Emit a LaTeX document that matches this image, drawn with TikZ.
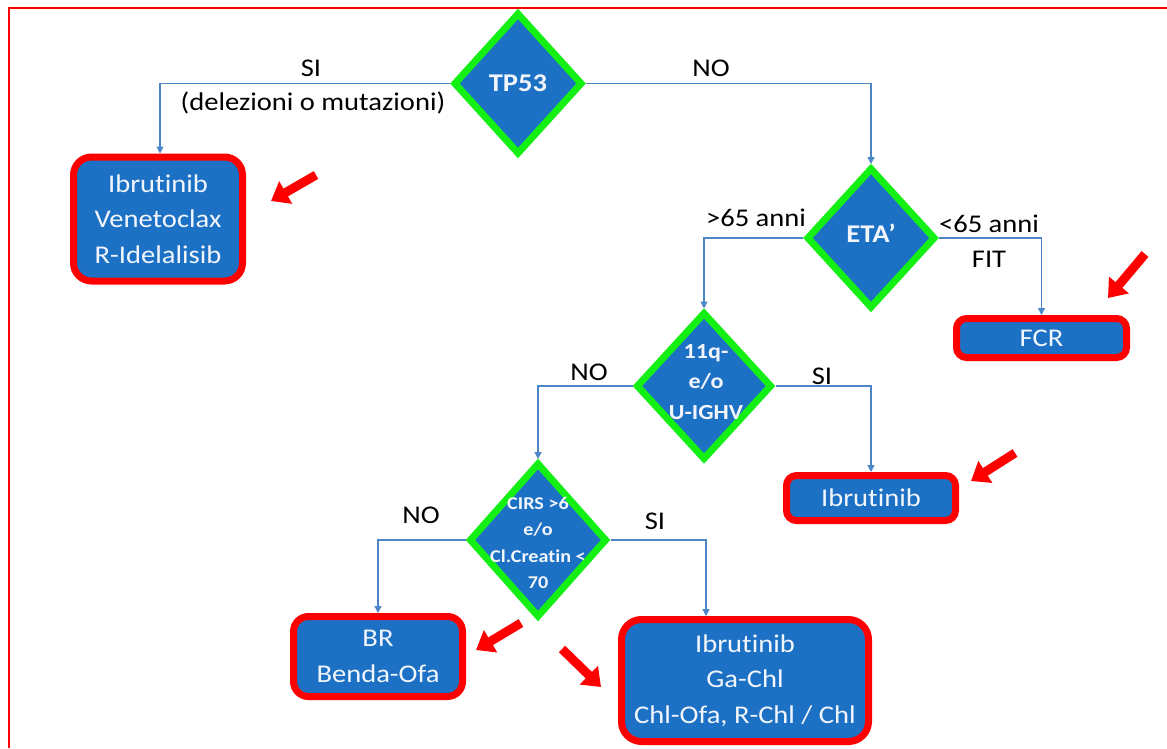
\documentclass[tikz,border=0pt]{standalone}
\usepackage{fontspec}
\setmainfont{Carlito}[FakeStretch=1.12, Ligatures={NoCommon}]
\usetikzlibrary{shapes.geometric,arrows.meta}
\definecolor{boxblue}{RGB}{28,113,196}
\definecolor{dgreen}{RGB}{20,240,20}
\definecolor{bred}{RGB}{255,0,0}
\definecolor{lineblue}{RGB}{74,134,200}
\definecolor{txt}{RGB}{242,246,252}
\tikzset{
  dia/.style={diamond, draw=dgreen, line width=7pt, fill=boxblue, inner sep=0pt, line join=miter},
  res/.style={rectangle, rounded corners=#1, draw=bred, line width=7pt, fill=boxblue, text=txt,
              align=center, inner sep=0pt, font=\fontsize{25.5}{35.5}\selectfont},
  res/.default=12pt,
  link/.style={draw=lineblue, line width=1.2pt, -{Triangle[length=7pt,width=7pt]}},
  lbl/.style={font=\fontsize{25.5}{29}\selectfont, text=black, inner sep=0pt, align=center},
  pointer/.style={draw=bred, line width=9pt, -{Triangle[length=17pt,width=25pt]}}
}
\begin{document}
\begin{tikzpicture}[x=1pt,y=-1pt]
\useasboundingbox (0,0) rectangle (1167,748);
\fill[white] (0,0) rectangle (1167,748);
\draw[bred, line width=1.5pt] (9,748) -- (9,8) -- (1167,8);

% decision diamonds
\node[dia, minimum width=129pt, minimum height=142pt,
  label={[text=txt, font=\bfseries\fontsize{25.5}{30}\selectfont]center:TP53}] (tp) at (518,83.5) {};
\node[dia, minimum width=129pt, minimum height=141pt,
  label={[text=txt, font=\bfseries\fontsize{25.5}{30}\selectfont, yshift=5pt]center:ETA’}] (eta) at (871,238) {};
\node[dia, minimum width=136pt, minimum height=148pt,
  label={[text=txt, align=center, font=\bfseries\fontsize{21.5}{30.5}\selectfont, xshift=2pt, yshift=4pt]center:11q-\\e/o\\U-IGHV}] (q11) at (704,386) {};
\node[dia, minimum width=138pt, minimum height=155pt,
  label={[text=txt, align=center, font=\bfseries\fontsize{18}{26.3}\selectfont, yshift=-3pt]center:CIRS >6\\e/o\\Cl.Creatin <\\70}] (cirs) at (538,540) {};

% result boxes
\node[res=18pt, minimum width=169pt, minimum height=124pt] (lb) at (158,219) {Ibrutinib\\Venetoclax\\R-Idelalisib};
\node[res=10pt, minimum width=170pt, minimum height=39pt] (fcr) at (1041.5,338) {FCR};
\node[res=10pt, minimum width=169pt, minimum height=45pt] (ib) at (871,498) {Ibrutinib};
\node[res=15pt, minimum width=169pt, minimum height=80pt] (br) at (378,656.5) {BR\\Benda-Ofa};
\node[res=20pt, minimum width=247pt, minimum height=122pt] (big) at (745,680.5) {Ibrutinib\\Ga-Chl\\Chl-Ofa, R-Chl / Chl};

% connectors
\draw[link] (tp.west) -| ([xshift=2pt]lb.north);
\draw[link] (tp.east) -| (eta.north);
\draw[link] (eta.west) -| (q11.north);
\draw[link] (eta.east) -| (fcr.north);
\draw[link] (q11.west) -| (cirs.north);
\draw[link] (q11.east) -| (ib.north);
\draw[link] (cirs.west) -| (br.north);
\draw[link] (cirs.east) -| ([xshift=-39pt]big.north);

% labels
\node[lbl] (l1) at (311,68) {SI};
\node[lbl] (l2) at (313,103) {(delezioni o mutazioni)};
\node[lbl] (l3) at (711,68) {NO};
\node[lbl] (l4) at (756,218) {>65 anni};
\node[lbl] (l5) at (989,224) {<65 anni};
\node[lbl] (l6) at (989,259) {FIT};
\node[lbl] (l7) at (589,372) {NO};
\node[lbl] (l8) at (822,376) {SI};
\node[lbl] (l9) at (421,515) {NO};
\node[lbl] (l10) at (655,521) {SI};

% red pointers
\coordinate (p1a) at (316,175); \coordinate (p1b) at (271,201);
\coordinate (p2a) at (1145,254); \coordinate (p2b) at (1108,298);
\coordinate (p3a) at (1015,453); \coordinate (p3b) at (971,481);
\coordinate (p4a) at (521,623); \coordinate (p4b) at (476,650);
\coordinate (p5a) at (562,649); \coordinate (p5b) at (601,687);
\draw[pointer] (p1a) -- (p1b);
\draw[pointer] (p2a) -- (p2b);
\draw[pointer] (p3a) -- (p3b);
\draw[pointer] (p4a) -- (p4b);
\draw[pointer] (p5a) -- (p5b);
\end{tikzpicture}
\end{document}
